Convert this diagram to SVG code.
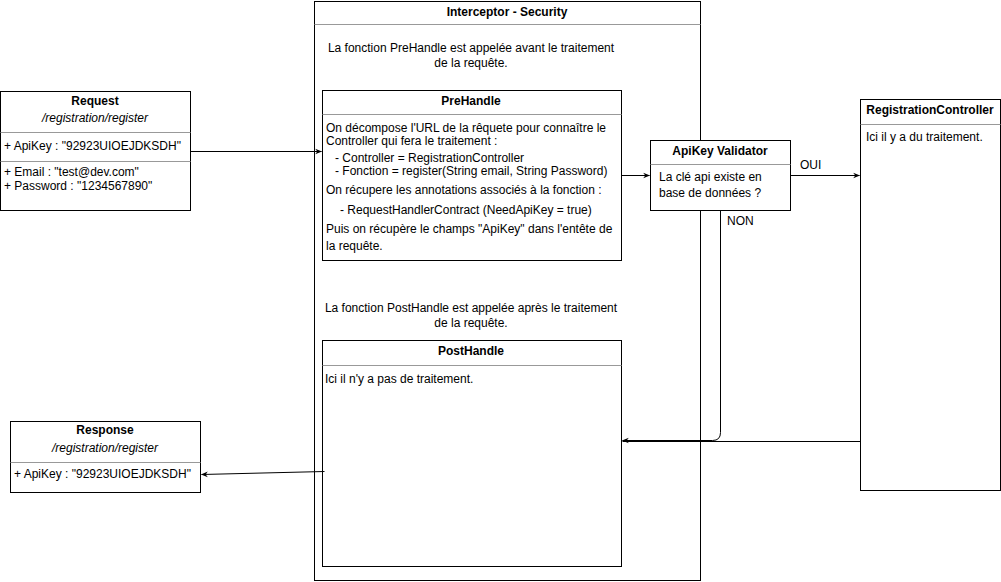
<svg xmlns="http://www.w3.org/2000/svg" width="1001" height="582" viewBox="0 0 1001 582">
<defs>
<style>
text{font-family:"Liberation Sans",Arial,sans-serif;font-size:12px;fill:#000}
.b{font-weight:bold}
.i{font-style:italic}
.c{text-anchor:middle}
.box{fill:#fff;stroke:#000;stroke-width:1}
.sep{stroke:#999;stroke-width:1}
.ln{fill:none;stroke:#000;stroke-width:1}
</style>
<marker id="ah" viewBox="0 0 10 10" refX="9" refY="5" markerWidth="7" markerHeight="7" orient="auto-start-reverse" markerUnits="userSpaceOnUse">
<path d="M0,1 L10,5 L0,9 L3,5 Z" fill="#000"/>
</marker>
</defs>
<g id="interceptor">
<rect class="box" x="314.5" y="1.5" width="386" height="579"/>
<line class="sep" x1="314.5" y1="24.5" x2="700.5" y2="24.5"/>
<text class="b c" x="507" y="16">Interceptor - Security</text>
<text class="c" x="471" y="52">La fonction PreHandle est appelée avant le traitement</text>
<text class="c" x="471" y="67">de la requête.</text>
<text class="c" x="471" y="312">La fonction PostHandle est appelée après le traitement</text>
<text class="c" x="471" y="327">de la requête.</text>
</g>
<g id="request">
<rect class="box" x="0.5" y="91.5" width="190" height="119"/>
<line class="sep" x1="0.5" y1="132.5" x2="190.5" y2="132.5"/>
<line class="sep" x1="0.5" y1="161.5" x2="190.5" y2="161.5"/>
<text class="b c" x="95" y="105">Request</text>
<text class="i c" x="95" y="122">/registration/register</text>
<text x="4" y="150">+ ApiKey : "92923UIOEJDKSDH"</text>
<text x="4" y="176">+ Email : "test@dev.com"</text>
<text x="4" y="190">+ Password : "1234567890"</text>
</g>
<g id="prehandle">
<rect class="box" x="322.5" y="90.5" width="299" height="170"/>
<line class="sep" x1="322.5" y1="114.5" x2="621.5" y2="114.5"/>
<text class="b c" x="471" y="105">PreHandle</text>
<text x="326" y="132">On décompose l'URL de la rêquete pour connaître le</text>
<text x="326" y="145">Controller qui fera le traitement :</text>
<text x="335" y="162">- Controller = RegistrationController</text>
<text x="335" y="175">- Fonction = register(String email, String Password)</text>
<text x="326" y="194">On récupere les annotations associés à la fonction :</text>
<text x="340" y="214">- RequestHandlerContract (NeedApiKey = true)</text>
<text x="326" y="233">Puis on récupère le champs "ApiKey" dans l'entête de</text>
<text x="326" y="250">la requête.</text>
</g>
<g id="apikey-validator">
<rect class="box" x="650.5" y="140.5" width="140" height="70"/>
<line class="sep" x1="650.5" y1="164.5" x2="790.5" y2="164.5"/>
<text class="b c" x="720" y="155">ApiKey Validator</text>
<text x="659" y="181">La clé api existe en</text>
<text x="659" y="197">base de données ?</text>
</g>
<g id="registration-controller">
<rect class="box" x="860.5" y="99.5" width="140" height="391"/>
<line class="sep" x1="860.5" y1="124.5" x2="1000.5" y2="124.5"/>
<text class="b c" x="930" y="114">RegistrationController</text>
<text x="866" y="141">Ici il y a du traitement.</text>
</g>
<g id="posthandle">
<rect class="box" x="322.5" y="340.5" width="299" height="226"/>
<line class="sep" x1="322.5" y1="365.5" x2="621.5" y2="365.5"/>
<text class="b c" x="471" y="355">PostHandle</text>
<text x="325" y="383">Ici il n'y a pas de traitement.</text>
</g>
<g id="response">
<rect class="box" x="10.5" y="421.5" width="190" height="71"/>
<line class="sep" x1="10.5" y1="462.5" x2="200.5" y2="462.5"/>
<text class="b c" x="105" y="434">Response</text>
<text class="i c" x="105" y="452">/registration/register</text>
<text x="14" y="478">+ ApiKey : "92923UIOEJDKSDH"</text>
</g>
<g id="connectors">
<line class="ln" x1="190.5" y1="151.5" x2="321.5" y2="151.5" marker-end="url(#ah)"/>
<line class="ln" x1="621.5" y1="175.5" x2="649.5" y2="175.5" marker-end="url(#ah)"/>
<line class="ln" x1="790.5" y1="175.5" x2="859.5" y2="175.5" marker-end="url(#ah)"/>
<text x="800" y="169">OUI</text>
<path class="ln" d="M720.5,210.5 L720.5,432.5 Q720.5,440.5 712.5,440.5 L622.5,440.5" marker-end="url(#ah)"/>
<text x="727" y="225">NON</text>
<path class="ln" d="M860.5,441.5 L622.5,441.5"/>
<line class="ln" x1="324.5" y1="471.5" x2="201.5" y2="474.5" marker-end="url(#ah)"/>
</g>
</svg>
